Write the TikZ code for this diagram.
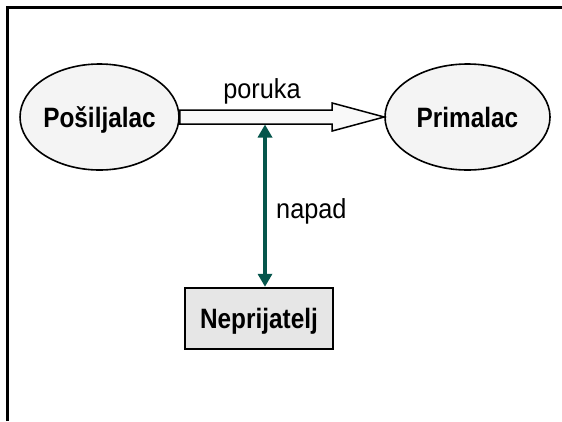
\documentclass[tikz,border=0pt]{standalone}
\usepackage{fontspec}
\setmainfont{Liberation Sans}
\newfontfamily\narrowbold[FakeStretch=0.87]{Liberation Sans Bold}
\newfontfamily\narrowreg[FakeStretch=0.92]{Liberation Sans}
\usetikzlibrary{shapes.geometric,arrows.meta,calc}
\definecolor{ellfill}{RGB}{244,244,244}
\definecolor{boxfill}{RGB}{230,230,230}
\definecolor{arrfill}{RGB}{249,249,249}
\definecolor{teal}{RGB}{6,86,76}
\tikzset{
  party/.style={ellipse, draw=black, line width=1.6pt, fill=ellfill, inner sep=0pt,
    font=\narrowbold\fontsize{28}{32}\selectfont, text height=20pt, text depth=0pt},
  enemybox/.style={rectangle, draw=black, line width=2.4pt, fill=boxfill, inner sep=0pt,
    minimum width=148pt, minimum height=61pt,
    font=\narrowbold\fontsize{28}{32}\selectfont, text height=20pt, text depth=0pt},
  lbl/.style={font=\narrowreg\fontsize{27.5}{32}\selectfont, inner sep=0pt},
  frameline/.style={line width=3pt},
  msgarrow/.style={draw=black, line width=1.5pt, fill=arrfill, line join=miter},
  attack/.style={draw=teal, line width=3.3pt, {Triangle[width=14pt,length=13pt]}-{Triangle[width=14pt,length=13pt]}}
}
\begin{document}
\begin{tikzpicture}[x=1pt, y={(0pt,-1pt)}]
\useasboundingbox (0,0) rectangle (562,421);
% partial frame
\draw[frameline] (7.5,421) -- (7.5,7.5) -- (562,7.5);
% nodes
\node[party, minimum width=149pt, minimum height=106pt] (snd) at (99.5,117) {Pošiljalac};
\node[party, minimum width=165pt, minimum height=106pt] (rcv) at (467.5,117) {Primalac};
\node[enemybox] (enemy) at (259,318.5) {Neprijatelj};
% hollow message arrow
\filldraw[msgarrow]
  ($(snd.east)+(0,-7)$) -- ($(rcv.west)+(-52,-7)$) -- ($(rcv.west)+(-52,-14)$)
  -- (rcv.west) -- ($(rcv.west)+(-52,14)$) -- ($(rcv.west)+(-52,7)$)
  -- ($(snd.east)+(0,7)$) -- cycle;
\node[lbl, anchor=base] (poruka) at (262,98) {poruka};
% attack arrow
\coordinate (hit) at (265,124.5);
\draw[attack] (hit) -- (hit |- enemy.north);
\node[lbl, anchor=base west] (napad) at (276,218) {napad};
\end{tikzpicture}
\end{document}
